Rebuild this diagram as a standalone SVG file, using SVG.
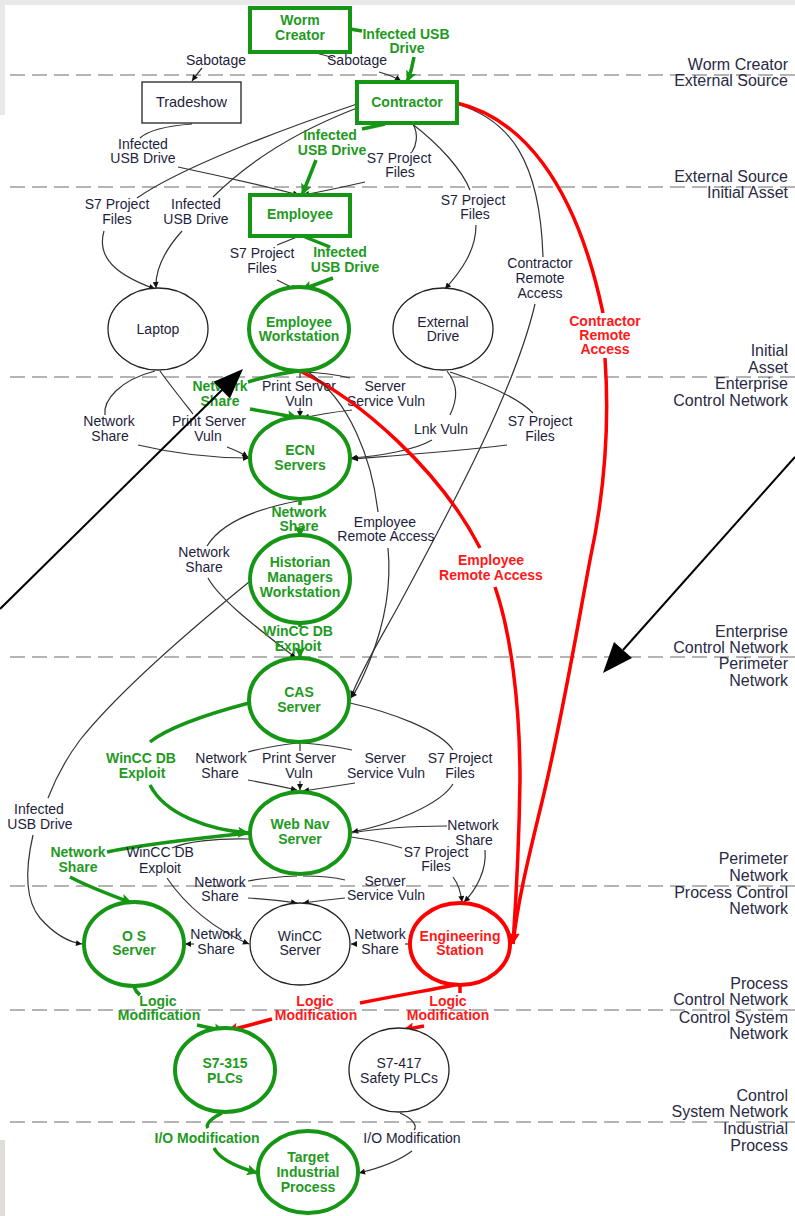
<svg xmlns="http://www.w3.org/2000/svg" width="795" height="1216" viewBox="0 0 795 1216">
  <style>
    text { font-family: "Liberation Sans", Arial, sans-serif; }
    .lb { font-size: 14px; fill: #1e1e3c; text-anchor: middle; }
    .nl { font-size: 14px; text-anchor: middle; fill: #1e1e3c; }
    .rt { font-size: 16px; text-anchor: end; fill: #2a2a44; }
    .lg { fill: #1f9a1f; font-weight: bold; }
    .lr { fill: #ff1a1a; font-weight: bold; }
    .ng { fill: #fff; stroke: #159615; stroke-width: 4; }
    .nk { fill: #fff; stroke: #222; stroke-width: 1.3; }
    .nr { fill: #fff; stroke: #ff0000; stroke-width: 4; }
    .ek { fill: none; stroke: #333; stroke-width: 1.2; }
    .eg { fill: none; stroke: #159615; stroke-width: 3.5; }
    .er { fill: none; stroke: #ff0000; stroke-width: 3.5; }
    .zone { stroke: #b4b4b4; stroke-width: 2; stroke-dasharray: 15 7; }
    .big { stroke: #000; stroke-width: 2; }
  </style>
  <defs>
    <marker id="ab" viewBox="0 0 10 10" refX="10" refY="5" markerWidth="7" markerHeight="6" markerUnits="userSpaceOnUse" orient="auto">
      <path d="M0,0 L10,5 L0,10 z" fill="#111"/>
    </marker>
    <marker id="ag" viewBox="0 0 10 10" refX="10" refY="5" markerWidth="15" markerHeight="11" markerUnits="userSpaceOnUse" orient="auto">
      <path d="M0,0 L10,5 L0,10 L2,5 z" fill="#159615"/>
    </marker>
    <marker id="ar" viewBox="0 0 10 10" refX="10" refY="5" markerWidth="15" markerHeight="11" markerUnits="userSpaceOnUse" orient="auto">
      <path d="M0,0 L10,5 L0,10 L2,5 z" fill="#ff0000"/>
    </marker>
  </defs>

  <!-- page frame -->
  <rect x="0" y="0" width="795" height="1216" fill="#fff"/>
  <rect x="0" y="0" width="795" height="5" fill="#e9e9e9"/>
  <rect x="0" y="0" width="5" height="115" fill="#e9e9e9"/>
  <rect x="0" y="1140" width="5" height="76" fill="#e0ddd8"/>

  <!-- zone boundaries -->
  <g id="zones">
    <line class="zone" x1="10" y1="75" x2="795" y2="75"/>
    <line class="zone" x1="10" y1="187" x2="795" y2="187"/>
    <line class="zone" x1="10" y1="377" x2="795" y2="377"/>
    <line class="zone" x1="10" y1="657" x2="795" y2="657"/>
    <line class="zone" x1="10" y1="886" x2="795" y2="886"/>
    <line class="zone" x1="10" y1="1010" x2="795" y2="1010"/>
    <line class="zone" x1="10" y1="1122" x2="795" y2="1122"/>
  </g>

  <g id="zone-labels">
    <text class="rt" x="788" y="70">Worm Creator</text>
    <text class="rt" x="788" y="86">External Source</text>
    <text class="rt" x="788" y="182">External Source</text>
    <text class="rt" x="788" y="198">Initial Asset</text>
    <text class="rt" x="788" y="356">Initial</text>
    <text class="rt" x="788" y="373">Asset</text>
    <text class="rt" x="788" y="389">Enterprise</text>
    <text class="rt" x="788" y="406">Control Network</text>
    <text class="rt" x="788" y="637">Enterprise</text>
    <text class="rt" x="788" y="653">Control Network</text>
    <text class="rt" x="788" y="669">Perimeter</text>
    <text class="rt" x="788" y="686">Network</text>
    <text class="rt" x="788" y="864">Perimeter</text>
    <text class="rt" x="788" y="881">Network</text>
    <text class="rt" x="788" y="898">Process Control</text>
    <text class="rt" x="788" y="914">Network</text>
    <text class="rt" x="788" y="989">Process</text>
    <text class="rt" x="788" y="1005">Control Network</text>
    <text class="rt" x="788" y="1023">Control System</text>
    <text class="rt" x="788" y="1039">Network</text>
    <text class="rt" x="788" y="1101">Control</text>
    <text class="rt" x="788" y="1117">System Network</text>
    <text class="rt" x="788" y="1134">Industrial</text>
    <text class="rt" x="788" y="1151">Process</text>
  </g>

  <g id="connectors">
    <!-- Worm Creator -> Tradeshow -->
    <path class="ek" d="M289,50 Q265,49 248,53"/>
    <path class="ek" d="M202,68 Q197,74 192,81" marker-end="url(#ab)"/>
    <text class="lb" x="216" y="65">Sabotage</text>
    <!-- Worm Creator -> Contractor -->
    <path class="ek" d="M298,50 Q320,53 333,58"/>
    <path class="ek" d="M379,72 Q393,76 401,81" marker-end="url(#ab)"/>
    <text class="lb" x="357" y="65">Sabotage</text>
    <path class="eg" d="M350,29 L362,31"/>
    <path class="eg" d="M414,57 Q412,70 407,82" marker-end="url(#ag)"/>
    <text class="lb lg" x="406" y="39">Infected USB</text>
    <text class="lb lg" x="407" y="53">Drive</text>

    <!-- Tradeshow -> Employee -->
    <path class="ek" d="M192,124 Q152,127 140,138"/>
    <path class="ek" d="M178,167 Q240,180 299,195" marker-end="url(#ab)"/>
    <text class="lb" x="143" y="149">Infected</text>
    <text class="lb" x="143" y="163">USB Drive</text>

    <!-- Contractor -> Laptop -->
    <path class="ek" d="M357,104 C280,130 180,168 137,198"/>
    <path class="ek" d="M104,231 C95,262 125,278 155,289" marker-end="url(#ab)"/>
    <text class="lb" x="117" y="209">S7 Project</text>
    <text class="lb" x="117" y="224">Files</text>
    <path class="ek" d="M357,108 C300,130 250,160 213,197"/>
    <path class="ek" d="M182,231 C165,250 155,268 156,288" marker-end="url(#ab)"/>
    <text class="lb" x="196" y="209">Infected</text>
    <text class="lb" x="196" y="224">USB Drive</text>

    <!-- Contractor -> Employee -->
    <path class="eg" d="M385,124 L362,129"/>
    <path class="eg" d="M316,160 Q309,178 302,195" marker-end="url(#ag)"/>
    <text class="lb lg" x="330" y="140">Infected</text>
    <text class="lb lg" x="332" y="155">USB Drive</text>
    <path class="ek" d="M413,124 C419,135 416,146 412,152"/>
    <path class="ek" d="M365,182 Q330,190 303,195" marker-end="url(#ab)"/>
    <text class="lb" x="399" y="163">S7 Project</text>
    <text class="lb" x="400" y="177">Files</text>

    <!-- Contractor -> External Drive -->
    <path class="ek" d="M411,123 C440,145 462,170 470,190"/>
    <path class="ek" d="M476,225 C476,250 462,270 445,289" marker-end="url(#ab)"/>
    <text class="lb" x="473" y="205">S7 Project</text>
    <text class="lb" x="475" y="219">Files</text>

    <!-- Contractor -> CAS Server -->
    <path class="ek" d="M457,104 C510,120 540,160 543,257"/>
    <path class="ek" d="M535,304 C515,390 450,510 400,603 C380,640 362,668 351,697" marker-end="url(#ab)"/>
    <text class="lb" x="540" y="268">Contractor</text>
    <text class="lb" x="540" y="283">Remote</text>
    <text class="lb" x="540" y="298">Access</text>

    <!-- Contractor -> Engineering Station -->
    <path class="er" d="M457,103 C520,118 575,180 603,313"/>
    <path class="er" d="M605,358 C610,430 603,500 590,560 C575,640 560,730 540,810 C528,860 518,900 513,944" marker-end="url(#ar)"/>
    <text class="lb lr" x="605" y="326">Contractor</text>
    <text class="lb lr" x="605" y="340">Remote</text>
    <text class="lb lr" x="605" y="354">Access</text>

    <!-- Employee -> Employee Workstation -->
    <path class="ek" d="M297,237 L277,245"/>
    <path class="ek" d="M277,280 L297,290" marker-end="url(#ab)"/>
    <text class="lb" x="262" y="258">S7 Project</text>
    <text class="lb" x="262" y="273">Files</text>
    <path class="eg" d="M305,237 L330,247"/>
    <path class="eg" d="M333,278 L301,290" marker-end="url(#ag)"/>
    <text class="lb lg" x="340" y="257">Infected</text>
    <text class="lb lg" x="345" y="272">USB Drive</text>

    <!-- Laptop -> ECN Servers -->
    <path class="ek" d="M155,371 C120,380 103,400 105,415"/>
    <path class="ek" d="M138,445 C180,455 220,458 249,458" marker-end="url(#ab)"/>
    <text class="lb" x="109" y="426">Network</text>
    <text class="lb" x="110" y="441">Share</text>
    <path class="ek" d="M160,371 C170,385 182,400 193,414"/>
    <path class="ek" d="M227,447 Q240,452 248,457" marker-end="url(#ab)"/>
    <text class="lb" x="209" y="426">Print Server</text>
    <text class="lb" x="208" y="441">Vuln</text>

    <!-- Employee Workstation -> ECN Servers -->
    <path class="eg" d="M298,371 Q270,375 248,382"/>
    <path class="eg" d="M250,409 Q275,413 298,418" marker-end="url(#ag)"/>
    <text class="lb lg" x="220" y="391">Network</text>
    <text class="lb lg" x="220" y="406">Share</text>
    <path class="ek" d="M300,371 L300,378"/>
    <path class="ek" d="M300,408 L300,417" marker-end="url(#ab)"/>
    <text class="lb" x="299" y="391">Print Server</text>
    <text class="lb" x="299" y="406">Vuln</text>
    <path class="ek" d="M303,372 Q330,373 350,378"/>
    <path class="ek" d="M352,410 Q325,413 303,418" marker-end="url(#ab)"/>
    <text class="lb" x="385" y="391">Server</text>
    <text class="lb" x="386" y="406">Service Vuln</text>

    <!-- External Drive -> ECN Servers -->
    <path class="ek" d="M447,371 C458,385 458,398 450,415"/>
    <path class="ek" d="M432,440 C415,450 380,456 351,458" marker-end="url(#ab)"/>
    <text class="lb" x="441" y="434">Lnk Vuln</text>
    <path class="ek" d="M450,372 C490,385 520,400 533,413"/>
    <path class="ek" d="M507,445 C450,452 390,456 352,459" marker-end="url(#ab)"/>
    <text class="lb" x="540" y="426">S7 Project</text>
    <text class="lb" x="540" y="441">Files</text>

    <!-- Employee Workstation -> Engineering Station -->
    <path class="er" d="M300,371 C360,400 440,470 480,548"/>
    <path class="er" d="M495,587 C510,630 520,700 520,780 C519,850 516,900 513,944" marker-end="url(#ar)"/>
    <text class="lb lr" x="491" y="565">Employee</text>
    <text class="lb lr" x="491" y="580">Remote Access</text>

    <!-- Employee Workstation -> CAS Server -->
    <path class="ek" d="M308,372 C350,400 372,460 378,512"/>
    <path class="ek" d="M388,548 C392,590 382,630 370,660 C362,680 357,690 351,698" marker-end="url(#ab)"/>
    <text class="lb" x="385" y="527">Employee</text>
    <text class="lb" x="386" y="541">Remote Access</text>

    <!-- ECN Servers -> Historian -->
    <path class="eg" d="M300,500 L300,505"/>
    <path class="eg" d="M300,532 L300,537" marker-end="url(#ag)"/>
    <text class="lb lg" x="299" y="517">Network</text>
    <text class="lb lg" x="299" y="531">Share</text>

    <!-- ECN Servers -> CAS Server -->
    <path class="ek" d="M298,501 C250,510 220,525 207,546"/>
    <path class="ek" d="M208,578 C220,600 260,630 296,658" marker-end="url(#ab)"/>
    <text class="lb" x="204" y="557">Network</text>
    <text class="lb" x="204" y="572">Share</text>

    <!-- Historian -> CAS Server -->
    <path class="eg" d="M300,623 L300,627"/>
    <path class="eg" d="M300,652 L300,658" marker-end="url(#ag)"/>
    <text class="lb lg" x="298" y="636">WinCC DB</text>
    <text class="lb lg" x="298" y="651">Exploit</text>

    <!-- Historian -> OS Server -->
    <path class="ek" d="M249,582 C190,630 120,690 80,740 C65,760 55,780 48,798"/>
    <path class="ek" d="M33,835 C25,870 25,900 40,918 C55,935 68,942 82,944" marker-end="url(#ab)"/>
    <text class="lb" x="39" y="814">Infected</text>
    <text class="lb" x="40" y="829">USB Drive</text>

    <!-- CAS Server -> Web Nav Server -->
    <path class="eg" d="M249,703 C200,716 165,730 150,742"/>
    <path class="eg" d="M150,785 C165,815 210,830 249,833" marker-end="url(#ag)"/>
    <text class="lb lg" x="141" y="763">WinCC DB</text>
    <text class="lb lg" x="142" y="778">Exploit</text>
    <path class="ek" d="M297,743 Q270,746 248,752"/>
    <path class="ek" d="M248,780 Q270,784 297,790" marker-end="url(#ab)"/>
    <text class="lb" x="221" y="763">Network</text>
    <text class="lb" x="220" y="778">Share</text>
    <path class="ek" d="M300,743 L300,751"/>
    <path class="ek" d="M300,781 L300,790" marker-end="url(#ab)"/>
    <text class="lb" x="299" y="763">Print Server</text>
    <text class="lb" x="299" y="778">Vuln</text>
    <path class="ek" d="M303,743 Q330,745 352,750"/>
    <path class="ek" d="M355,783 Q330,787 303,791" marker-end="url(#ab)"/>
    <text class="lb" x="385" y="763">Server</text>
    <text class="lb" x="386" y="778">Service Vuln</text>
    <path class="ek" d="M350,703 C390,712 440,730 453,750"/>
    <path class="ek" d="M453,784 C440,805 390,825 352,832" marker-end="url(#ab)"/>
    <text class="lb" x="460" y="763">S7 Project</text>
    <text class="lb" x="460" y="778">Files</text>

    <!-- Web Nav Server -> Engineering Station -->
    <path class="ek" d="M352,833 C380,828 420,826 447,826"/>
    <path class="ek" d="M485,850 C487,870 476,890 464,902" marker-end="url(#ab)"/>
    <text class="lb" x="473" y="830">Network</text>
    <text class="lb" x="474" y="845">Share</text>
    <path class="ek" d="M351,837 Q380,841 402,848"/>
    <path class="ek" d="M453,877 Q460,886 462,902" marker-end="url(#ab)"/>
    <text class="lb" x="436" y="857">S7 Project</text>
    <text class="lb" x="436" y="871">Files</text>

    <!-- Web Nav Server -> OS Server -->
    <path class="eg" d="M249,833 C200,838 140,845 107,852"/>
    <path class="eg" d="M70,877 C85,885 105,893 132,903" marker-end="url(#ag)"/>
    <text class="lb lg" x="78" y="857">Network</text>
    <text class="lb lg" x="78" y="872">Share</text>

    <!-- Web Nav Server -> WinCC Server -->
    <path class="ek" d="M250,839 C215,838 185,842 172,848"/>
    <path class="ek" d="M167,878 C185,905 215,930 249,944" marker-end="url(#ab)"/>
    <text class="lb" x="160" y="857">WinCC DB</text>
    <text class="lb" x="160" y="873">Exploit</text>
    <path class="ek" d="M297,876 Q270,877 248,881"/>
    <path class="ek" d="M248,898 Q275,900 297,903" marker-end="url(#ab)"/>
    <text class="lb" x="220" y="887">Network</text>
    <text class="lb" x="220" y="901">Share</text>
    <path class="ek" d="M303,876 Q330,876 345,880"/>
    <path class="ek" d="M345,898 Q325,900 303,903" marker-end="url(#ab)"/>
    <text class="lb" x="385" y="886">Server</text>
    <text class="lb" x="386" y="900">Service Vuln</text>

    <!-- WinCC Server -> OS Server -->
    <path class="ek" d="M194,944 L185,944" marker-end="url(#ab)"/>
    <text class="lb" x="216" y="939">Network</text>
    <text class="lb" x="216" y="954">Share</text>

    <!-- Engineering Station -> WinCC Server -->
    <path class="ek" d="M410,944 L405,944"/>
    <path class="ek" d="M357,944 L351,944" marker-end="url(#ab)"/>
    <text class="lb" x="380" y="939">Network</text>
    <text class="lb" x="380" y="954">Share</text>

    <!-- OS Server -> S7-315 PLCs -->
    <path class="eg" d="M134,987 Q136,992 140,995"/>
    <path class="eg" d="M197,1025 Q210,1028 225,1031" marker-end="url(#ag)"/>
    <text class="lb lg" x="158" y="1006">Logic</text>
    <text class="lb lg" x="159" y="1020">Modification</text>

    <!-- Engineering Station -> S7-315 PLCs -->
    <path class="er" d="M455,985 C430,990 400,995 360,1003"/>
    <path class="er" d="M272,1019 Q250,1025 227,1031" marker-end="url(#ar)"/>
    <text class="lb lr" x="315" y="1006">Logic</text>
    <text class="lb lr" x="316" y="1020">Modification</text>

    <!-- Engineering Station -> S7-417 Safety PLCs -->
    <path class="er" d="M460,986 L460,993"/>
    <path class="er" d="M424,1026 L403,1030" marker-end="url(#ar)"/>
    <text class="lb lr" x="448" y="1006">Logic</text>
    <text class="lb lr" x="448" y="1020">Modification</text>

    <!-- S7-315 PLCs -> Target Industrial Process -->
    <path class="eg" d="M222,1113 C212,1118 205,1124 208,1128"/>
    <path class="eg" d="M214,1148 C220,1160 240,1168 258,1173" marker-end="url(#ag)"/>
    <text class="lb lg" x="207" y="1143">I/O Modification</text>

    <!-- S7-417 Safety PLCs -> Target Industrial Process -->
    <path class="ek" d="M400,1113 C412,1118 418,1126 414,1130"/>
    <path class="ek" d="M412,1151 C400,1160 380,1168 359,1173" marker-end="url(#ab)"/>
    <text class="lb" x="412" y="1143">I/O Modification</text>
  </g>

  <!-- nodes -->
  <g id="worm-creator">
    <rect class="ng" x="250" y="8" width="100" height="44"/>
    <text class="nl lg" x="300" y="25">Worm</text>
    <text class="nl lg" x="300" y="40">Creator</text>
  </g>
  <g id="tradeshow">
    <rect class="nk" x="142" y="82" width="99" height="41"/>
    <text class="nl" x="191.5" y="107" style="font-size:14.5px">Tradeshow</text>
  </g>
  <g id="contractor">
    <rect class="ng" x="357" y="82" width="100" height="41"/>
    <text class="nl lg" x="407" y="107">Contractor</text>
  </g>
  <g id="employee">
    <rect class="ng" x="250" y="195" width="100" height="41"/>
    <text class="nl lg" x="300" y="219">Employee</text>
  </g>
  <g id="laptop">
    <ellipse class="nk" cx="158" cy="329" rx="50" ry="41"/>
    <text class="nl" x="158" y="334">Laptop</text>
  </g>
  <g id="employee-workstation">
    <ellipse class="ng" cx="299" cy="329" rx="50" ry="42"/>
    <text class="nl lg" x="299" y="327">Employee</text>
    <text class="nl lg" x="299" y="341">Workstation</text>
  </g>
  <g id="external-drive">
    <ellipse class="nk" cx="443" cy="329" rx="50" ry="41"/>
    <text class="nl" x="443" y="327">External</text>
    <text class="nl" x="443" y="341">Drive</text>
  </g>
  <g id="ecn-servers">
    <ellipse class="ng" cx="300" cy="458" rx="50" ry="41"/>
    <text class="nl lg" x="300" y="455">ECN</text>
    <text class="nl lg" x="300" y="470">Servers</text>
  </g>
  <g id="historian">
    <ellipse class="ng" cx="300" cy="579" rx="50" ry="44"/>
    <text class="nl lg" x="300" y="567">Historian</text>
    <text class="nl lg" x="300" y="582">Managers</text>
    <text class="nl lg" x="300" y="597">Workstation</text>
  </g>
  <g id="cas-server">
    <ellipse class="ng" cx="299" cy="700" rx="50" ry="42"/>
    <text class="nl lg" x="299" y="697">CAS</text>
    <text class="nl lg" x="299" y="712">Server</text>
  </g>
  <g id="web-nav-server">
    <ellipse class="ng" cx="300" cy="833" rx="50" ry="41"/>
    <text class="nl lg" x="300" y="829">Web Nav</text>
    <text class="nl lg" x="300" y="844">Server</text>
  </g>
  <g id="os-server">
    <ellipse class="ng" cx="134" cy="944" rx="50" ry="42"/>
    <text class="nl lg" x="134" y="941">O S</text>
    <text class="nl lg" x="134" y="955">Server</text>
  </g>
  <g id="wincc-server">
    <ellipse class="nk" cx="300" cy="944" rx="50" ry="41"/>
    <text class="nl" x="300" y="941">WinCC</text>
    <text class="nl" x="300" y="955">Server</text>
  </g>
  <g id="engineering-station">
    <ellipse class="nr" cx="460" cy="944" rx="50" ry="41"/>
    <text class="nl lr" x="460" y="941">Engineering</text>
    <text class="nl lr" x="460" y="955">Station</text>
  </g>
  <g id="s7-315-plcs">
    <ellipse class="ng" cx="225" cy="1070" rx="50" ry="42"/>
    <text class="nl lg" x="225" y="1068">S7-315</text>
    <text class="nl lg" x="225" y="1083">PLCs</text>
  </g>
  <g id="s7-417-safety-plcs">
    <ellipse class="nk" cx="399" cy="1070" rx="50" ry="42"/>
    <text class="nl" x="399" y="1068">S7-417</text>
    <text class="nl" x="399" y="1083">Safety PLCs</text>
  </g>
  <g id="target-industrial-process">
    <ellipse class="ng" cx="308" cy="1172" rx="50" ry="41"/>
    <text class="nl lg" x="308" y="1162">Target</text>
    <text class="nl lg" x="308" y="1177">Industrial</text>
    <text class="nl lg" x="308" y="1192">Process</text>
  </g>

  <!-- callout arrows -->
  <g id="callouts">
    <line class="big" x1="0" y1="609" x2="222" y2="390"/>
    <path d="M243,369 L213.5,381.8 L229.9,398.4 z" fill="#000"/>
    <line class="big" x1="795" y1="457" x2="623" y2="650"/>
    <path d="M603,673 L614,642 L632,658 z" fill="#000"/>
  </g>
</svg>
